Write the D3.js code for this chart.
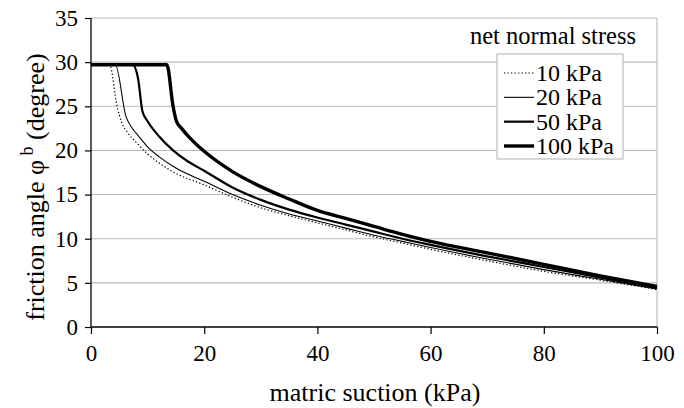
<!DOCTYPE html>
<html>
<head>
<meta charset="utf-8">
<script src="https://cdn.jsdelivr.net/npm/d3@7"></script>
<style>
  html, body { margin: 0; padding: 0; background: #fff; }
  svg { display: block; }
  text { font-family: "Liberation Serif", "Times New Roman", serif; fill: #000; }
</style>
</head>
<body>
<svg id="chart" width="684" height="408"></svg>
<script>
// Friction angle phi^b versus matric suction, for four net normal stresses
const seriesNames = ["10 kPa", "20 kPa", "50 kPa", "100 kPa"];

const suction10  = [0, 3.3, 4.6, 5.4, 6.5, 8, 10, 12, 15, 20, 25, 30, 35, 40, 45, 50, 55, 60, 70, 80, 90, 100];
const phib10     = [29.7, 29.7, 25.0, 23.2, 22.0, 20.9, 19.6, 18.6, 17.4, 16.1, 14.7, 13.5, 12.6, 11.8, 11.0, 10.2, 9.5, 8.8, 7.5, 6.3, 5.3, 4.25];

const suction20  = [0, 4.3, 6.2, 7.2, 8.7, 10.3, 12, 15, 20, 25, 30, 35, 40, 45, 50, 55, 60, 70, 80, 90, 100];
const phib20     = [29.7, 29.7, 23.8, 22.6, 21.4, 20.2, 19.3, 18.0, 16.5, 15.0, 13.8, 12.8, 12.0, 11.2, 10.4, 9.7, 9.0, 7.7, 6.5, 5.4, 4.3];

const suction50  = [0, 7.4, 8.3, 9.1, 10, 12, 14.5, 17, 20, 25, 30, 35, 40, 45, 50, 55, 60, 70, 80, 90, 100];
const phib50     = [29.7, 29.7, 28.2, 24.4, 23.3, 21.6, 20.0, 18.8, 17.7, 15.8, 14.4, 13.3, 12.4, 11.6, 10.8, 10.0, 9.3, 8.0, 6.8, 5.6, 4.4];

const suction100 = [0, 13.4, 14.5, 15.1, 16, 17.5, 20, 25, 30, 35, 40, 45, 50, 55, 60, 70, 80, 90, 100];
const phib100    = [29.7, 29.7, 25.0, 23.3, 22.5, 21.4, 19.9, 17.6, 15.9, 14.5, 13.2, 12.3, 11.4, 10.5, 9.7, 8.4, 7.1, 5.8, 4.6];

const xTicks = [0, 20, 40, 60, 80, 100];
const yTicks = [0, 5, 10, 15, 20, 25, 30, 35];

const series = [
  { name: seriesNames[0], x: suction10,  y: phib10,  width: 1.2, dash: "1.3,2.2" },
  { name: seriesNames[1], x: suction20,  y: phib20,  width: 1.1, dash: null },
  { name: seriesNames[2], x: suction50,  y: phib50,  width: 2.2, dash: null },
  { name: seriesNames[3], x: suction100, y: phib100, width: 3.4, dash: null }
];

const svg = d3.select("#chart");
const plotLeft = 91, plotRight = 657, plotTop = 18, plotBottom = 327;

const x = d3.scaleLinear().domain([0, 100]).range([plotLeft, plotRight]);
const y = d3.scaleLinear().domain([0, 35]).range([plotBottom, plotTop]);

// horizontal gridlines
svg.append("g")
  .selectAll("line")
  .data(yTicks.filter(d => d > 0))
  .join("line")
  .attr("x1", plotLeft).attr("x2", plotRight)
  .attr("y1", d => y(d)).attr("y2", d => y(d))
  .attr("stroke", "#b8b8b8").attr("stroke-width", 1.1);

// right border of plot area
svg.append("line")
  .attr("x1", plotRight).attr("x2", plotRight).attr("y1", plotTop).attr("y2", plotBottom)
  .attr("stroke", "#b8b8b8").attr("stroke-width", 1.1);

// curves
const line = d3.line().x(d => x(d[0])).y(d => y(d[1])).curve(d3.curveMonotoneX);
svg.append("g")
  .selectAll("path")
  .data(series)
  .join("path")
  .attr("d", s => line(s.x.map((v, i) => [v, s.y[i]])))
  .attr("fill", "none")
  .attr("stroke", "#000")
  .attr("stroke-width", s => s.width)
  .attr("stroke-dasharray", s => s.dash)
  .attr("stroke-linejoin", "round");

// axes
const xAxis = svg.append("g")
  .attr("transform", `translate(0,${plotBottom})`)
  .call(d3.axisBottom(x).tickValues(xTicks).tickSize(7).tickPadding(11).tickFormat(d3.format("d")));
const yAxis = svg.append("g")
  .attr("transform", `translate(${plotLeft},0)`)
  .call(d3.axisLeft(y).tickValues(yTicks).tickSize(6).tickPadding(7).tickFormat(d3.format("d")));

[xAxis, yAxis].forEach(g => {
  g.select(".domain").attr("stroke", "#000").attr("stroke-width", 1.3);
  g.selectAll(".tick line").attr("stroke", "#000").attr("stroke-width", 1.2);
  g.selectAll(".tick text")
    .attr("font-family", "'Liberation Serif', 'Times New Roman', serif")
    .attr("font-size", 23).attr("fill", "#000");
});
// plain spines without outer ticks
yAxis.select(".domain").attr("d", `M0,${plotTop}V${plotBottom}`);
xAxis.select(".domain").attr("d", `M${plotLeft},0H${plotRight}`);

// axis titles
svg.append("text")
  .attr("x", 375).attr("y", 401)
  .attr("text-anchor", "middle")
  .attr("font-size", 26)
  .text("matric suction (kPa)");

const yTitle = svg.append("text")
  .attr("transform", "translate(44,187) rotate(-90)")
  .attr("text-anchor", "middle")
  .attr("font-size", 26);
yTitle.append("tspan").text("friction angle \u03C6");
yTitle.append("tspan").attr("dy", -11).attr("font-size", 18).text(" b");
yTitle.append("tspan").attr("dy", 11).text(" (degree)");

// legend
svg.append("text")
  .attr("x", 553).attr("y", 44)
  .attr("text-anchor", "middle")
  .attr("font-size", 24.5)
  .text("net normal stress");

const lg = svg.append("g");
lg.append("rect")
  .attr("x", 497).attr("y", 54).attr("width", 126).attr("height", 105)
  .attr("fill", "#fff").attr("stroke", "#b8b8b8").attr("stroke-width", 1.1);

const rowY = d3.scalePoint().domain(seriesNames).range([73, 146]);
const rows = lg.selectAll("g.row").data(series).join("g").attr("class", "row")
  .attr("transform", s => `translate(0,${rowY(s.name)})`);
rows.append("line")
  .attr("x1", 504).attr("x2", 534).attr("y1", 0).attr("y2", 0)
  .attr("stroke", "#000")
  .attr("stroke-width", s => s.width)
  .attr("stroke-dasharray", s => s.dash);
rows.append("text")
  .attr("x", 536).attr("y", 8)
  .attr("font-size", 24)
  .text(s => s.name);
</script>
</body>
</html>
